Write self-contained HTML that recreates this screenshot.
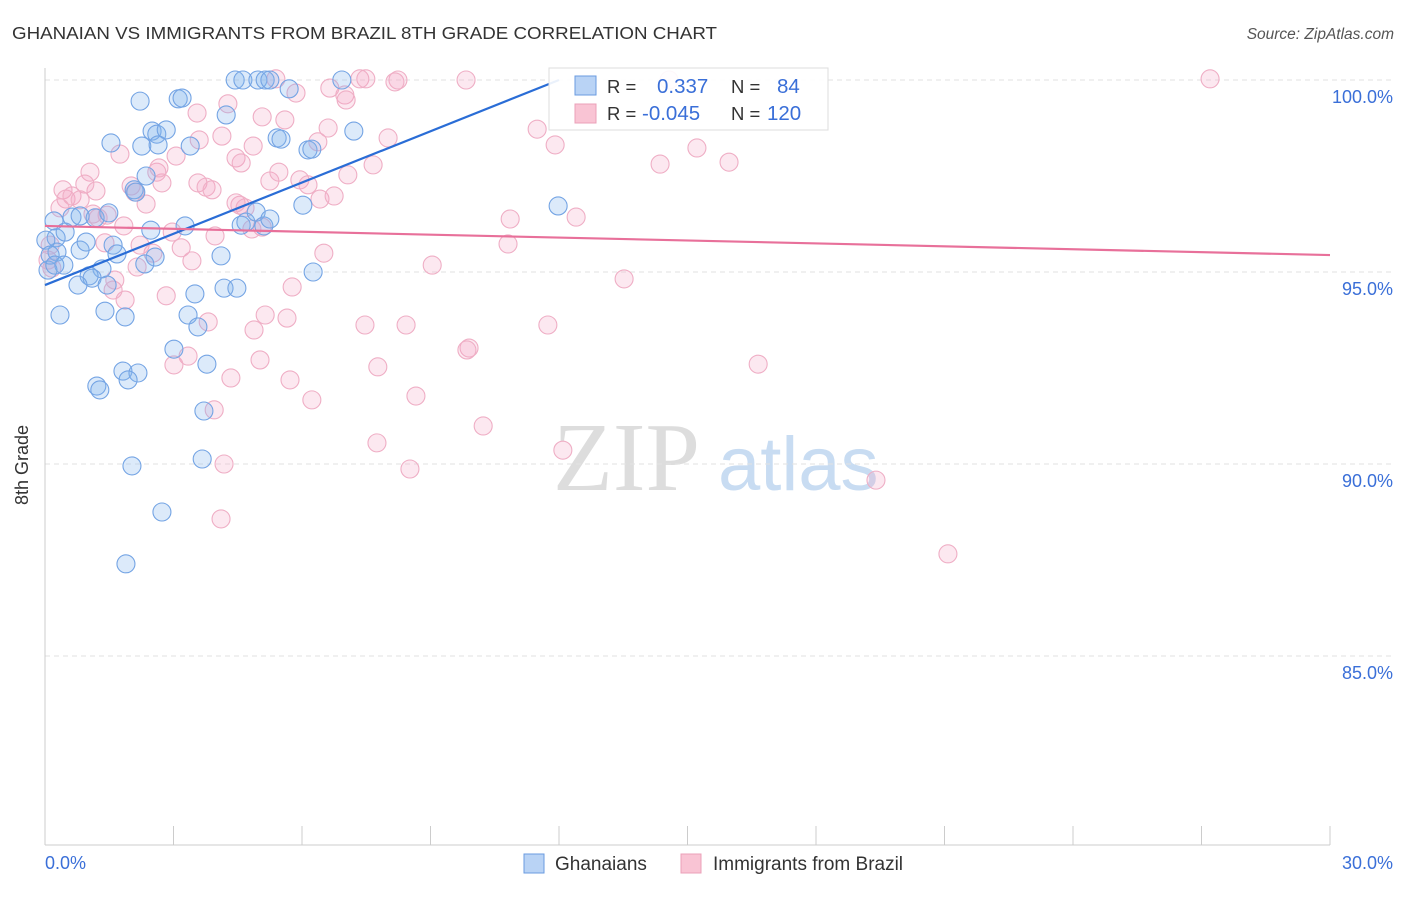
<!DOCTYPE html>
<html><head><meta charset="utf-8"><style>
body{margin:0;background:#fff;font-family:"Liberation Sans",sans-serif}
</style></head><body>
<svg id="chart" width="1406" height="892" xmlns="http://www.w3.org/2000/svg">
<text x="12" y="39" font-size="17.5" fill="#333" textLength="705" lengthAdjust="spacingAndGlyphs">GHANAIAN VS IMMIGRANTS FROM BRAZIL 8TH GRADE CORRELATION CHART</text>
<text x="1394" y="39" font-size="15.5" fill="#555" font-style="italic" text-anchor="end">Source: ZipAtlas.com</text>
<g>
<text x="553" y="490" font-size="98" font-family="Liberation Serif,serif" fill="#ddd">ZIP</text>
<text x="718" y="490" font-size="76" fill="#c8dcf2">atlas</text>
</g>
<g id="grid"></g>
<line x1="45" y1="68" x2="45" y2="845" stroke="#ccc"/>
<line x1="45" y1="845" x2="1330" y2="845" stroke="#ccc"/>
<text x="20" y="457" font-size="18" fill="#333" transform="rotate(-90 28 457)" text-anchor="middle">8th Grade</text>
<text x="45" y="869" font-size="18" fill="#3a6fd8">0.0%</text>
<text x="1393" y="869" font-size="18" fill="#3a6fd8" text-anchor="end">30.0%</text>
<g id="pts"></g>
<g id="lines"></g>
<g>
<rect x="549" y="68" width="279" height="62" fill="#fff" fill-opacity="0.9" stroke="#ddd"/>
<rect x="575" y="76" width="21" height="19" fill="#b9d3f5" stroke="#6a9be0"/>
<rect x="575" y="104" width="21" height="19" fill="#f9c4d4" stroke="#eba0b8"/>
<text x="607" y="93" font-size="18.5" fill="#333">R =</text>
<text x="657" y="93" font-size="20.5" fill="#3a6fd8">0.337</text>
<text x="731" y="93" font-size="18.5" fill="#333">N =</text>
<text x="777" y="93" font-size="20.5" fill="#3a6fd8">84</text>
<text x="607" y="120" font-size="18.5" fill="#333">R =</text>
<text x="642" y="120" font-size="20.5" fill="#3a6fd8">-0.045</text>
<text x="731" y="120" font-size="18.5" fill="#333">N =</text>
<text x="767" y="120" font-size="20.5" fill="#3a6fd8">120</text>
</g>
<g>
<rect x="524" y="854" width="20" height="19" fill="#b9d3f5" stroke="#6a9be0"/>
<text x="555" y="870" font-size="19" fill="#333">Ghanaians</text>
<rect x="681" y="854" width="20" height="19" fill="#f9c4d4" stroke="#eba0b8"/>
<text x="713" y="870" font-size="19" fill="#333">Immigrants from Brazil</text>
</g>
</svg>
<script>
const yTicks=[100,95,90,85];
const yTickLabels=["100.0%","95.0%","90.0%","85.0%"];
const xTicks=[0,3,6,9,12,15,18,21,24,27,30];
const blueX=[4.44,4.62,4.97,5.14,5.25,6.93,2.22,3.11,3.20,5.70,4.23,1.54,2.50,2.61,2.83,2.26,2.64,3.39,5.42,5.51,6.14,6.23,7.21,2.36,2.08,2.12,11.98,0.21,0.63,0.82,1.17,1.49,2.47,3.27,4.58,4.69,4.93,5.11,5.25,0.26,0.28,0.82,0.96,1.59,1.68,2.57,2.33,4.11,1.33,1.03,1.10,0.44,0.77,1.45,6.26,6.02,4.18,4.48,3.50,0.35,1.40,1.87,3.34,3.57,3.01,3.78,1.82,2.17,1.94,1.21,1.28,3.71,2.03,3.67,2.73,1.89,0.02,0.07,0.12,0.23,0.47];
const blueY=[100,100,100,100,100,100,99.45,99.51,99.53,99.77,99.09,98.36,98.67,98.59,98.70,98.28,98.31,98.28,98.49,98.46,98.18,98.20,98.67,97.50,97.14,97.08,96.72,96.33,96.43,96.46,96.41,96.54,96.09,96.20,96.22,96.30,96.56,96.20,96.38,95.89,95.52,95.57,95.78,95.70,95.47,95.39,95.21,95.42,95.08,94.90,94.84,95.18,94.66,94.66,95.00,96.74,94.58,94.58,94.43,93.88,93.98,93.83,93.88,93.57,92.99,92.60,92.42,92.37,92.19,92.03,91.93,91.38,89.95,90.13,88.75,87.40,95.83,95.05,95.44,95.18,96.04];
const pinkX=[0.07,0.16,0.12,0.42,0.49,0.63,0.35,1.05,1.19,0.93,1.75,1.45,1.24,2.01,2.10,2.36,2.61,2.73,3.06,3.57,3.76,3.90,3.60,3.55,4.27,4.13,4.46,4.58,4.55,4.67,4.83,5.07,4.86,5.25,5.60,5.46,5.86,5.39,6.65,7.00,7.07,6.61,6.37,5.95,6.14,6.42,6.75,7.35,7.49,8.24,8.17,8.01,7.66,9.83,11.49,11.91,12.40,10.86,10.81,9.04,8.43,7.47,6.51,5.77,5.65,5.14,4.88,5.02,3.81,4.34,3.95,4.18,4.11,3.34,3.01,2.83,3.18,3.97,2.52,2.22,1.87,1.59,1.84,1.40,11.74,9.90,9.85,7.77,8.66,7.75,8.52,10.23,12.09,13.52,14.36,15.22,15.97,14.57,16.65,19.40,21.08,27.20,6.23,5.72,2.97,2.15,0.82,1.12,1.63,2.66,4.46,3.43,5.07,7.03];
const pinkY=[95.31,95.10,95.70,97.14,96.90,96.98,96.67,97.60,97.11,97.29,98.07,96.48,96.41,97.24,97.08,96.77,97.60,97.32,98.02,97.32,97.21,97.14,98.44,99.14,99.38,98.54,97.97,97.84,96.74,96.67,96.12,96.17,98.28,97.37,98.96,97.60,99.66,100.03,99.79,99.61,97.53,98.75,98.39,97.40,97.27,96.90,96.98,100.03,100.03,100,99.95,98.49,97.79,100,98.72,98.31,96.43,96.38,95.73,95.18,93.62,93.62,95.49,94.61,93.80,93.88,93.49,92.71,93.70,92.24,91.41,90.00,88.57,92.81,92.58,94.38,95.63,95.94,95.49,95.70,94.27,94.53,96.20,95.76,93.62,93.02,92.97,92.53,91.77,90.55,89.87,90.99,90.36,94.82,97.81,98.23,97.86,100,92.60,89.58,87.66,100.03,91.67,92.19,96.04,95.13,96.88,96.51,94.79,97.71,96.80,95.29,99.04,99.48];
const blueTrend=[94.66,0.445];
const pinkTrend=[96.20,-0.0253];
const blueXEnd=12;
const NS="http://www.w3.org/2000/svg";
function sx(v){return 45+v*(1285/30);}
function sy(v){return 80+(100-v)*38.4;}
function mk(t,a,p){const e=document.createElementNS(NS,t);for(const k in a)e.setAttribute(k,a[k]);p.appendChild(e);return e;}
const grid=document.getElementById('grid');
yTicks.forEach((t,i)=>{
  const l=mk('line',{x1:45,x2:1393,y1:sy(t),y2:sy(t),stroke:'#e2e2e2','stroke-dasharray':'5,4'},grid);
  
  
  const tx=mk('text',{x:1393,y:sy(t)+23,'font-size':18,fill:'#3a6fd8','text-anchor':'end'},grid);
  tx.textContent=yTickLabels[i];
  
  
});
xTicks.forEach(t=>{
  const l=mk('line',{x1:sx(t),x2:sx(t),y1:826,y2:845,stroke:'#ccc'},grid);
  
  
});
const pts=document.getElementById('pts');
pinkX.forEach((x,i)=>{
  const c=mk('circle',{cx:sx(x),cy:sy(pinkY[i]),r:9,fill:'rgba(245,165,195,0.25)',stroke:'#efaec5','stroke-width':1.1},pts);
  
  
});
blueX.forEach((x,i)=>{
  const c=mk('circle',{cx:sx(x),cy:sy(blueY[i]),r:9,fill:'rgba(130,178,238,0.28)',stroke:'#74a4e4','stroke-width':1.1},pts);
  
  
});
const lines=document.getElementById('lines');
const bl=mk('line',{x1:sx(0),y1:sy(blueTrend[0]),x2:sx(blueXEnd),y2:sy(blueTrend[0]+blueTrend[1]*blueXEnd),stroke:'#2a6dd6','stroke-width':2.2},lines);


const pl=mk('line',{x1:sx(0),y1:sy(pinkTrend[0]),x2:sx(30),y2:sy(pinkTrend[0]+pinkTrend[1]*30),stroke:'#e8709a','stroke-width':2.2},lines);


</script>
</body></html>
